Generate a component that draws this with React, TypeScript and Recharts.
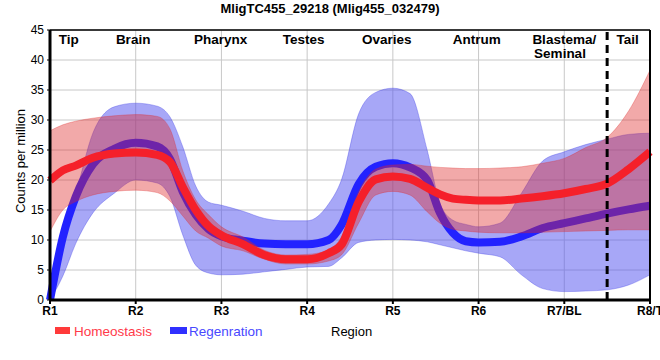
import React from "react";
import {
  ComposedChart,
  Area,
  Line,
  XAxis,
  YAxis,
  CartesianGrid,
  ReferenceLine,
  ReferenceDot,
} from "recharts";

// positions along the worm (1 = R1 ... 8 = R8/T)
const xPos = [1, 1.15, 1.3, 1.5, 1.75, 2, 2.25, 2.4, 2.55, 2.7, 2.85, 3, 3.25, 3.5, 3.75, 4, 4.25, 4.4, 4.6, 4.8, 5, 5.2, 5.4, 5.55, 5.7, 5.85, 6, 6.25, 6.5, 6.75, 7, 7.25, 7.5, 7.75, 8];

const homeoMean = [19.9, 21.6, 22.4, 23.7, 24.4, 24.6, 24.2, 23.0, 18.8, 15.0, 12.3, 10.8, 9.3, 7.5, 6.8, 6.8, 7.8, 9.2, 16.3, 20.1, 20.6, 20.2, 18.7, 17.6, 16.9, 16.7, 16.6, 16.6, 16.9, 17.3, 17.8, 18.5, 19.4, 21.8, 24.7];
const homeoHigh = [28.2, 29.2, 29.8, 30.3, 30.7, 30.9, 30.6, 28.5, 21.5, 16.7, 14.2, 12.2, 10.5, 8.3, 7.5, 7.6, 8.3, 10.5, 18.0, 21.8, 22.5, 22.6, 22.3, 22.1, 22.0, 21.9, 21.9, 22.0, 22.2, 22.8, 23.6, 25.4, 27.1, 31.5, 38.3];
const homeoLow = [11.4, 15.0, 16.4, 17.5, 18.1, 18.3, 17.9, 16.5, 14.0, 11.5, 10.3, 9.0, 8.2, 6.8, 6.0, 6.0, 6.5, 7.5, 12.8, 17.5, 18.1, 17.5, 14.7, 12.8, 11.8, 11.5, 11.3, 11.2, 11.2, 11.3, 11.4, 11.5, 11.6, 11.7, 11.7];

const regenMean = [0, 10.5, 17.2, 22.6, 25.2, 26.2, 25.6, 23.5, 18.0, 14.2, 11.8, 10.6, 9.9, 9.4, 9.3, 9.3, 10.0, 12.5, 19.3, 22.2, 22.8, 22.1, 20.0, 14.5, 11.2, 9.8, 9.6, 9.7, 10.6, 12.0, 12.8, 13.6, 14.4, 15.1, 15.7];
const regenHigh = [1.0, 11.7, 17.8, 27.8, 32.2, 32.8, 32.3, 30.5, 25.5, 19.0, 16.3, 15.8, 14.8, 13.6, 13.2, 13.2, 16.0, 20.0, 31.0, 34.6, 35.3, 34.4, 25.0, 16.1, 13.3, 12.6, 12.2, 12.8, 17.8, 23.2, 24.7, 25.9, 26.8, 27.6, 27.8];
const regenLow = [0, 4.0, 9.4, 14.5, 17.8, 20.0, 19.5, 17.2, 10.8, 5.8, 4.5, 4.2, 4.3, 4.7, 5.1, 5.5, 5.6, 7.0, 9.6, 10.0, 10.1, 10.0, 9.7, 9.2, 8.7, 8.2, 7.8, 7.2, 4.2, 1.9, 1.4, 1.5, 1.7, 2.5, 4.2];

const tickLabels = ["R1", "R2", "R3", "R4", "R5", "R6", "R7/BL", "R8/T"];
const yTicks = [0, 5, 10, 15, 20, 25, 30, 35, 40, 45];

const regionNames = ["Tip", "Brain", "Pharynx", "Testes", "Ovaries", "Antrum", "Blastema/", "Seminal", "Tail"];
const regionX = [1.22, 1.97, 2.99, 3.96, 4.93, 5.98, 7.0, 6.95, 7.74];
const regionY = [43.45, 43.45, 43.45, 43.45, 43.45, 43.45, 43.45, 41.1, 43.45];

const data = xPos.map((x, i) => ({
  x,
  homeo: homeoMean[i],
  homeoBand: [homeoLow[i], homeoHigh[i]],
  regen: regenMean[i],
  regenBand: [regenLow[i], regenHigh[i]],
}));

const FONT = "'Liberation Sans', Arial, sans-serif";

const YLabel = ({ viewBox }: any) => {
  const cx = viewBox.x + 20;
  const cy = viewBox.y + 131;
  return (
    <text x={cx} y={cy} transform={`rotate(-90, ${cx}, ${cy})`} textAnchor="middle" dominantBaseline="central" fontSize={13} fontFamily={FONT} fill="#000">
      Counts per million
    </text>
  );
};

// legend + axis title live under the x axis
const XLabel = ({ viewBox }: any) => {
  const x0 = viewBox.x;
  const y0 = viewBox.y;
  return (
    <g fontFamily={FONT}>
      <rect x={x0 + 5} y={y0 + 27} width={15} height={7} fill="#ff3a3a" />
      <text x={x0 + 24} y={y0 + 31} dominantBaseline="central" fontSize={13.5} fill="#ff3a4a">Homeostasis</text>
      <rect x={x0 + 120} y={y0 + 27} width={17} height={7} fill="#3030ff" />
      <text x={x0 + 139} y={y0 + 31} dominantBaseline="central" fontSize={13.5} fill="#4848ff">Regenration</text>
      <text x={x0 + 281} y={y0 + 31} dominantBaseline="central" fontSize={13} fill="#000">Region</text>
    </g>
  );
};

export default function App() {
  return (
    <div style={{ position: "absolute", left: 0, top: 0, width: 660, height: 360, background: "#fff" }}>
      <div style={{ position: "absolute", left: 0, top: 1, width: 660, textAlign: "center", fontFamily: FONT, fontWeight: "bold", fontSize: 13, lineHeight: "16px", color: "#000" }}>
        MligTC455_29218 (Mlig455_032479)
      </div>
      <ComposedChart width={660} height={360} data={data} margin={{ top: 30, right: 10, bottom: 0, left: 0 }}>
        <CartesianGrid stroke="#c8c8c8" strokeWidth={1} />
        <XAxis
          dataKey="x"
          type="number"
          domain={[1, 8]}
          ticks={[1, 2, 3, 4, 5, 6, 7, 8]}
          tickFormatter={(v: number) => tickLabels[v - 1]}
          height={60}
          axisLine={{ stroke: "#000", strokeWidth: 3 }}
          tickLine={{ stroke: "#000", strokeWidth: 2 }}
          tickSize={4}
          tickMargin={2}
          tick={{ fill: "#000", fontSize: 12, fontWeight: "bold", fontFamily: FONT }}
          interval={0}
          label={<XLabel />}
        />
        <YAxis
          type="number"
          domain={[0, 45]}
          ticks={yTicks}
          width={50}
          axisLine={{ stroke: "#000", strokeWidth: 3 }}
          tickLine={{ stroke: "#000", strokeWidth: 1 }}
          tickSize={3}
          tickMargin={3}
          tick={{ fill: "#000", fontSize: 12, fontFamily: FONT }}
          interval={0}
          label={<YLabel />}
        />
        <Area
          dataKey="regenBand"
          type="monotone"
          fill="rgb(80,80,240)"
          fillOpacity={0.5}
          stroke="rgba(60,60,230,0.35)"
          strokeWidth={1}
          isAnimationActive={false}
          zIndex={100}
        />
        <Line
          dataKey="regen"
          type="monotone"
          stroke="#2222ff"
          strokeWidth={8}
          dot={false}
          activeDot={false}
          isAnimationActive={false}
          zIndex={110}
        />
        <Area
          dataKey="homeoBand"
          type="monotone"
          fill="rgb(222,40,40)"
          fillOpacity={0.4}
          stroke="rgba(222,40,40,0.3)"
          strokeWidth={1}
          isAnimationActive={false}
          zIndex={120}
        />
        <Line
          dataKey="homeo"
          type="monotone"
          stroke="#f5202a"
          strokeWidth={8}
          dot={false}
          activeDot={false}
          isAnimationActive={false}
          zIndex={130}
        />
        <ReferenceLine y={45} stroke="#000" strokeWidth={1.5} />
        <ReferenceLine x={8} stroke="#000" strokeWidth={2} />
        <ReferenceLine x={7.5} stroke="#000" strokeWidth={3} strokeDasharray="8 5" />
        {regionNames.map((name, i) => (
          <ReferenceDot
            key={name}
            x={regionX[i]}
            y={regionY[i]}
            r={0}
            fill="none"
            stroke="none"
            label={{ value: name, position: "center", fill: "#000", fontSize: 13.5, fontWeight: "bold", fontFamily: FONT }}
          />
        ))}
      </ComposedChart>
    </div>
  );
}
